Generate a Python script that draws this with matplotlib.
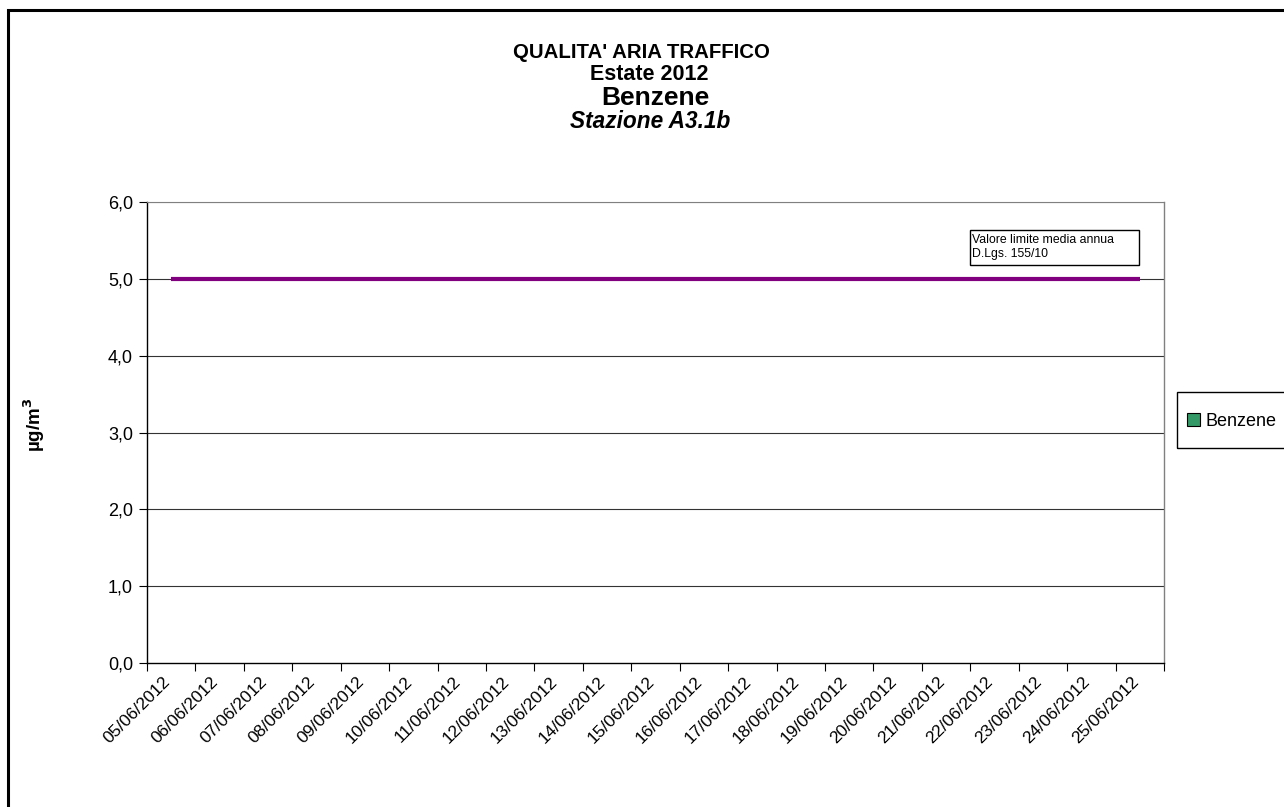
import numpy as np
import matplotlib.pyplot as plt
from matplotlib.patches import Rectangle, Patch
from matplotlib.transforms import ScaledTranslation

plt.rcParams['font.family'] = ['Liberation Sans', 'DejaVu Sans']

# Data
dates = ['05/06/2012', '06/06/2012', '07/06/2012', '08/06/2012', '09/06/2012',
         '10/06/2012', '11/06/2012', '12/06/2012', '13/06/2012', '14/06/2012',
         '15/06/2012', '16/06/2012', '17/06/2012', '18/06/2012', '19/06/2012',
         '20/06/2012', '21/06/2012', '22/06/2012', '23/06/2012', '24/06/2012',
         '25/06/2012']
benzene = [np.nan] * len(dates)          # no measurements shown
limite = [5.0] * len(dates)              # valore limite media annua
yticks = [0, 1, 2, 3, 4, 5, 6]

fig = plt.figure(figsize=(12.84, 8.07), dpi=100)
W, H = 1284, 807
ax = fig.add_axes([147 / W, 1 - 663 / H, (1164 - 147) / W, (663 - 202) / H])

x = np.arange(len(dates))
ax.bar(x, benzene, width=0.6, color='#339966', edgecolor='black', linewidth=0.8)
ax.plot(x, limite, color='#800080', linewidth=3, solid_capstyle='butt', zorder=3)

ax.set_xlim(-0.5, len(dates) - 0.5)
ax.set_ylim(0, 6)

# y axis
ax.set_yticks(yticks)
ax.set_yticklabels([('%.1f' % v).replace('.', ',') for v in yticks], fontsize=13)
ax.tick_params(axis='y', direction='out', length=6, width=0.8, pad=4)
for v in yticks[1:]:
    ax.axhline(v, color='#333333' if v < 6 else '#808080', linewidth=0.8, zorder=1)

# x axis: ticks between categories, labels at centres
ax.set_xticks(np.arange(-0.5, len(dates), 1.0))
ax.set_xticklabels([])
ax.tick_params(axis='x', which='major', direction='out', length=6, width=0.8)
ax.set_xticks(x, minor=True)
ax.set_xticklabels(dates, minor=True, rotation=45, ha='right', va='top',
                   rotation_mode='anchor', fontsize=12.5)
ax.tick_params(axis='x', which='minor', length=0, pad=8)
shift = ScaledTranslation(-9 / 100, 0, fig.dpi_scale_trans)
for lab in ax.get_xticklabels(minor=True):
    lab.set_transform(lab.get_transform() + shift)

for s in ['left', 'bottom']:
    ax.spines[s].set_color('black')
    ax.spines[s].set_linewidth(1.0)
ax.spines['right'].set_color('#808080')
ax.spines['top'].set_color('#808080')
ax.spines['right'].set_linewidth(1.0)
ax.spines['top'].set_linewidth(0.8)

ax.set_ylabel('µg/m$^\\mathbf{3}$', fontsize=13.5, fontweight='bold', labelpad=0)
ax.yaxis.set_label_coords((47 - 147) / (1164 - 147), (663 - 425) / (663 - 202))

# annotation box
fig.patches.append(Rectangle((970 / W, 1 - 265 / H), (1139 - 970) / W, 35 / H,
                             transform=fig.transFigure, fill=False,
                             edgecolor='black', linewidth=1.0, zorder=5))
fig.text(972 / W, 1 - 247 / H, 'Valore limite media annua\nD.Lgs. 155/10',
         fontsize=8.8, va='center', ha='left', linespacing=1.25)

# titles
fig.text(641 / W, 1 - 53 / H, "QUALITA' ARIA TRAFFICO", ha='center', va='center',
         fontsize=14.7, fontweight='bold')
fig.text(649 / W, 1 - 75 / H, 'Estate 2012', ha='center', va='center',
         fontsize=15.5, fontweight='bold')
fig.text(655 / W, 1 - 98 / H, 'Benzene', ha='center', va='center',
         fontsize=19, fontweight='bold')
fig.text(650 / W, 1 - 121 / H, 'Stazione A3.1b', ha='center', va='center',
         fontsize=16.3, fontweight='bold', style='italic')

# legend
fig.patches.append(Rectangle((1177 / W, 1 - 448 / H), 0.2, 56 / H,
                             transform=fig.transFigure, fill=False,
                             edgecolor='black', linewidth=1.0))
fig.legend(handles=[Patch(facecolor='#339966', edgecolor='black', linewidth=0.8,
                          label='Benzene')],
           loc='center left', bbox_to_anchor=(1187 / W, 1 - 421 / H),
           fontsize=13, frameon=False, borderpad=0, borderaxespad=0,
           handlelength=0.7, handleheight=0.7, handletextpad=0.3)

# outer frame of the chart area
fig.patches.append(Rectangle((8 / W, -0.1), 1.2, 1 - 10 / H + 0.1,
                             transform=fig.transFigure, fill=False,
                             edgecolor='black', linewidth=2.2))

fig.savefig('out.png', dpi=100)
